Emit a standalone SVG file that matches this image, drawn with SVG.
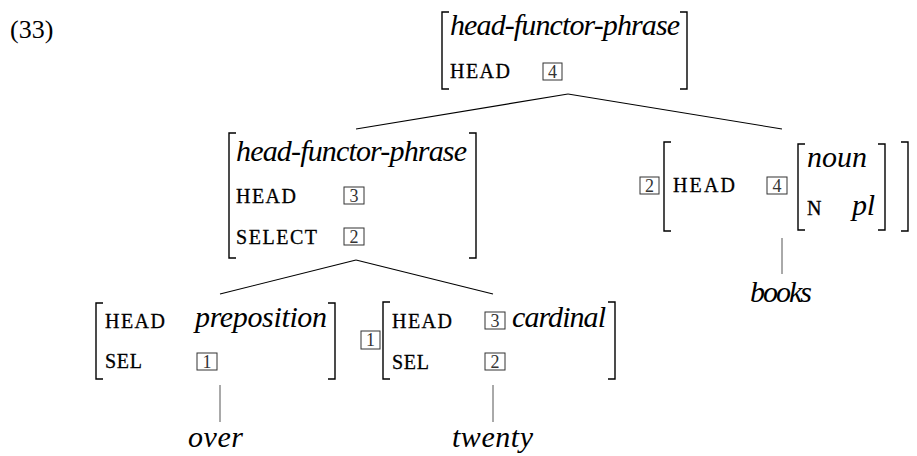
<svg xmlns="http://www.w3.org/2000/svg" width="917" height="456" viewBox="0 0 917 456">
<defs>
<style>
.it { font-style: italic; font-size: 30px; }
.sc { font-size: 20px; stroke: #000; stroke-width: 0.3; }
.ex { font-size: 26px; }
.num { font-size: 18px; fill: #333; text-anchor: middle; }
.box { fill: none; stroke: #333; stroke-width: 1; }
.br { fill: none; stroke: #000; stroke-width: 1.4; }
.edge { fill: none; stroke: #000; stroke-width: 1.1; }
.stem { fill: none; stroke: #555; stroke-width: 1; }
</style>
</defs>
<rect width="917" height="456" fill="#fff"/>
<text class="ex" font-family="Liberation Serif" x="10" y="38">(33)</text>

<g id="connectors">
  <path class="edge" d="M568,94 L356,129"/>
  <path class="edge" d="M568,94 L782,129"/>
  <path class="edge" d="M356,260 L220,294"/>
  <path class="edge" d="M356,260 L493,294"/>
  <path class="stem" d="M220,385 V422"/>
  <path class="stem" d="M493,385 V422"/>
  <path class="stem" d="M782,238 V274"/>
</g>

<g id="root" font-family="Liberation Serif">
  <path class="br" d="M449,12 H442 V89 H449"/>
  <path class="br" d="M680,12 H687 V89 H680"/>
  <text class="it" font-family="Liberation Serif" x="450" y="35" textLength="230">head-functor-phrase</text>
  <text class="sc" font-family="Liberation Serif" x="450" y="78" textLength="60">HEAD</text>
  <rect class="box" x="543" y="63" width="19" height="17"/>
  <text class="num" font-family="Liberation Serif" x="552.5" y="78">4</text>
</g>

<g id="hfp" font-family="Liberation Serif">
  <path class="br" d="M236,133 H229 V258 H236"/>
  <path class="br" d="M469,133 H476 V258 H469"/>
  <text class="it" font-family="Liberation Serif" x="236" y="161" textLength="231">head-functor-phrase</text>
  <text class="sc" font-family="Liberation Serif" x="236" y="203" textLength="60">HEAD</text>
  <rect class="box" x="344" y="187" width="20" height="17"/>
  <text class="num" font-family="Liberation Serif" x="354" y="202">3</text>
  <text class="sc" font-family="Liberation Serif" x="236" y="244" textLength="81">SELECT</text>
  <rect class="box" x="344" y="228" width="20" height="17"/>
  <text class="num" font-family="Liberation Serif" x="354" y="243">2</text>
</g>

<g id="over-node" font-family="Liberation Serif">
  <path class="br" d="M103,303 H96 V379 H103"/>
  <path class="br" d="M328,303 H335 V379 H328"/>
  <text class="sc" font-family="Liberation Serif" x="105" y="328" textLength="60">HEAD</text>
  <text class="it" font-family="Liberation Serif" x="195" y="327" textLength="132">preposition</text>
  <text class="sc" font-family="Liberation Serif" x="105" y="368" textLength="37">SEL</text>
  <rect class="box" x="197" y="353" width="20" height="17"/>
  <text class="num" font-family="Liberation Serif" x="207" y="368">1</text>
</g>

<g id="twenty-node" font-family="Liberation Serif">
  <rect class="box" x="361" y="331" width="19" height="18"/>
  <text class="num" font-family="Liberation Serif" x="370.5" y="346">1</text>
  <path class="br" d="M390,302 H383 V379 H390"/>
  <path class="br" d="M608,302 H615 V379 H608"/>
  <text class="sc" font-family="Liberation Serif" x="392" y="328" textLength="60">HEAD</text>
  <rect class="box" x="485" y="312" width="20" height="17"/>
  <text class="num" font-family="Liberation Serif" x="495" y="327">3</text>
  <text class="it" font-family="Liberation Serif" x="512" y="327" textLength="94">cardinal</text>
  <text class="sc" font-family="Liberation Serif" x="392" y="369" textLength="37">SEL</text>
  <rect class="box" x="485" y="353" width="20" height="17"/>
  <text class="num" font-family="Liberation Serif" x="495" y="368">2</text>
</g>

<g id="books-node" font-family="Liberation Serif">
  <rect class="box" x="640" y="177" width="19" height="17"/>
  <text class="num" font-family="Liberation Serif" x="649.5" y="192">2</text>
  <path class="br" d="M671,142 H664 V231 H671"/>
  <path class="br" d="M901,142 H908 V231 H901"/>
  <text class="sc" font-family="Liberation Serif" x="673" y="192" textLength="62">HEAD</text>
  <rect class="box" x="767" y="177" width="20" height="17"/>
  <text class="num" font-family="Liberation Serif" x="777" y="192">4</text>
  <path class="br" d="M805,144 H798 V230 H805"/>
  <path class="br" d="M878,144 H885 V230 H878"/>
  <text class="it" font-family="Liberation Serif" x="807" y="167" textLength="60">noun</text>
  <text class="sc" font-family="Liberation Serif" x="807" y="215">N</text>
  <text class="it" font-family="Liberation Serif" x="852" y="215" textLength="23">pl</text>
</g>

<g id="word-over" font-family="Liberation Serif">
  <text class="it" font-family="Liberation Serif" x="188" y="447" textLength="55">over</text>
</g>
<g id="word-twenty" font-family="Liberation Serif">
  <text class="it" font-family="Liberation Serif" x="452" y="447" textLength="81">twenty</text>
</g>
<g id="word-books" font-family="Liberation Serif">
  <text class="it" font-family="Liberation Serif" x="750" y="302" textLength="62" font-size="28">books</text>
</g>
</svg>
